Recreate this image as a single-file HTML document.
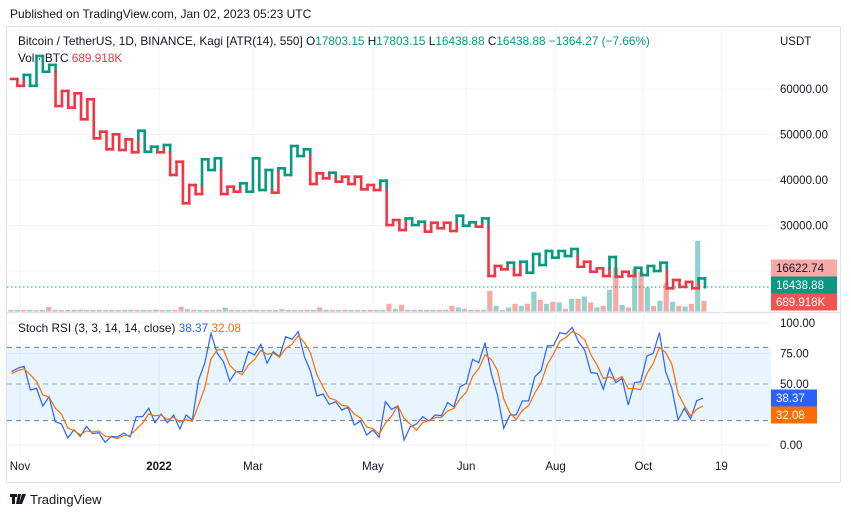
<!DOCTYPE html>
<html><head><meta charset="utf-8"><style>
html,body{margin:0;padding:0;background:#fff;}
body{width:851px;height:518px;overflow:hidden;position:relative;font-family:"Liberation Sans",sans-serif;}
.t{position:absolute;white-space:nowrap;}
</style></head><body>
<div class="t" style="left:10px;top:7px;font-size:12px;color:#131722;">Published on TradingView.com, Jan 02, 2023 05:23 UTC</div>
<svg id="c" width="851" height="518" style="position:absolute;left:0;top:0;font-family:'Liberation Sans',sans-serif;">
<rect x="6.5" y="26.5" width="834" height="456" fill="none" stroke="#e0e3eb"/>
<line x1="7" y1="312.5" x2="840" y2="312.5" stroke="#e0e3eb" stroke-width="1.5"/>
<g id="grid"></g>
<g id="vol"></g>
<g id="kagi"></g>
<line x1="7" y1="287" x2="771" y2="287" stroke="#089981" stroke-dasharray="1.5 2.5"/>
<g id="stoch"></g>
<g id="axes"></g>
<text x="18" y="45" font-size="11.8" fill="#131722">Bitcoin / TetherUS, 1D, BINANCE, Kagi [ATR(14), 550]  <tspan fill="#131722">O</tspan><tspan fill="#089981">17803.15</tspan>  H<tspan fill="#089981">17803.15</tspan>  L<tspan fill="#089981">16438.88</tspan>  C<tspan fill="#089981">16438.88</tspan>  <tspan fill="#089981">−1364.27 (−7.66%)</tspan></text>
<text x="18" y="62" font-size="11.8" fill="#131722">Vol · BTC  <tspan fill="#f23645">689.918K</tspan></text>
<text x="18" y="332" font-size="11.8" fill="#131722">Stoch RSI (3, 3, 14, 14, close)  <tspan fill="#2962ff">38.37</tspan>  <tspan fill="#ff6d00">32.08</tspan></text>
<text x="780" y="45" font-size="11.5" fill="#131722">USDT</text>
<g>
<path d="M10 494h7v3h-2v7h-3v-7h-2z M18 494h3l-2 10h-3z M22 494h4l-4 10h-3z" fill="#131722"/>
<text x="30" y="504" font-size="13" fill="#131722">TradingView</text>
</g>
</svg>
<script>
// ---- data ----
const kagiLevels=[62200,60700,63100,60700,67250,63800,65300,56260,59560,55900,59050,53340,57740,49160,50620,46750,50040,46600,48940,46090,50830,46220,47320,46090,47690,41100,44020,34880,38900,36920,44550,42200,44770,36920,38530,37430,39270,37430,44770,37800,42200,37210,42570,41100,47470,45270,46750,39120,41470,40370,41600,39630,40730,39120,40730,37950,38900,37800,39850,
30100,31200,29000,31560,30100,30830,28640,30610,29390,30610,28790,32150,29950,30700,29740,31560,18900,21100,20370,21830,19120,22040,19620,23730,21320,24390,22920,24390,23290,24830,20940,22040,19840,20590,18900,23070,18740,19840,18900,20700,19120,21100,20000,21830,16200,18020,16500,17600,16200,18370,16438];
const volumeK=[90,100,95,110,90,100,300,110,95,100,105,120,95,100,110,90,100,95,100,110,95,100,90,120,100,95,110,320,150,110,100,95,100,120,250,110,100,95,110,100,90,105,110,150,100,95,100,110,100,260,110,100,95,110,100,95,100,110,105,
110,500,175,435,110,110,110,110,110,110,110,370,260,175,110,110,110,1345,370,110,260,500,370,500,1280,760,500,630,585,175,825,825,975,585,260,370,1410,2860,435,260,2750,2600,1560,370,695,1840,630,370,325,500,4595,690];
const volumeUp=[0,1,0,1,0,1,0,1,0,1,0,1,0,1,0,1,0,1,0,1,0,1,0,1,0,1,0,0,1,0,1,0,1,0,1,0,1,0,1,0,1,0,1,0,1,0,1,0,1,0,1,0,1,0,1,0,1,0,1,
1,0,1,0,1,0,1,0,1,0,1,0,1,0,1,0,1,0,1,0,1,0,1,0,1,0,1,0,1,0,1,0,1,0,1,0,1,0,1,0,1,0,1,0,1,0,1,0,1,0,1,0];
const stochK=[60.1,63,64.5,45.1,46.4,31.9,39.6,19.1,17.2,5.7,12.5,7.1,15.3,9.3,10.1,2.2,7.1,6.6,9.8,6.6,23.2,23.2,30.1,18.3,25.4,18.3,24.6,13.1,24.6,20.5,53.3,67,91.5,75.1,68.3,52.5,60.1,60.1,76.5,73.8,82.5,67,76.5,72.4,88.8,86.6,92.9,72.4,60.1,40.2,41.8,33.3,35.5,28.7,30.9,16.4,19.7,8.2,12.3,6.3,35.5,29.2,32,4.1,15,17.2,23.2,19.6,24.6,24,34.8,31.2,47.8,50.5,70.2,67.5,83.9,58.8,41,13.7,24.6,24.6,36.1,36.1,56,60.9,81.4,81.4,92.1,91,96.4,84.7,77.9,59.3,58.8,45.7,62.8,51.1,54.6,32.8,51.1,51.9,73,75.1,92.1,60.1,46.4,20.5,30.1,21.4,36.4,38.37];
const stochD=[58.5,61,62.5,57.5,52,41.1,39.3,30.2,25.3,14,11.8,8.4,11.6,10.6,11.6,7.2,6.5,5.3,7.8,7.7,13.2,17.7,25.5,23.9,24.6,20.7,22.8,18.7,20.8,19.4,32.8,46.9,70.6,77.9,78.3,65.3,60.3,57.6,65.6,70.1,77.6,74.4,75.3,72,79.2,82.6,89.4,84,75.1,57.6,47.4,38.4,36.9,32.5,31.7,25.3,22.3,14.8,13.4,8.9,18,23.7,32.2,21.8,17,12.1,18.5,20,22.5,22.7,27.8,30,37.9,43.2,56.2,62.7,73.9,70.1,61.2,37.8,26.4,21,28.4,32.3,42.7,51,66.1,74.6,85,88.2,93.2,90.7,86.3,74,65.3,54.6,55.8,53.2,56.2,46.2,46.2,45.3,58.7,66.7,80.1,75.8,66.2,42.3,32.3,24,29.3,32.08];
const priceTicks=[60000,50000,40000,30000];
const stochTicks=[100,75,50,0];
const stochBands=[80,50,20];
const timeLabels=["Nov","2022","Mar","May","Jun","Aug","Oct","19"];
const timeFrac=[0.017,0.199,0.322,0.479,0.601,0.718,0.833,0.935];
// ---- scales ----
const NS="http://www.w3.org/2000/svg";
const PL=7,PR=771;
const yP=p=>89+(60000-p)*0.00455;
const yS=v=>445-v*1.22;
const yVol=v=>311.5-v/65;
const xK=i=>11+i*(705-11)/(kagiLevels.length-1);
const xV=i=>11+i*(704-11)/(volumeK.length-1);
const xS=i=>11.7+i*(703-11.7)/(stochK.length-1);
const xT=f=>PL+f*(PR-PL);
function mk(tag,attrs,parent){const e=document.createElementNS(NS,tag);for(const k in attrs)e.setAttribute(k,attrs[k]);parent.appendChild(e);return e;}
const G=id=>document.getElementById(id);
// grid
const grid=G('grid');
timeFrac.forEach(f=>{const l=mk('line',{x1:xT(f),x2:xT(f),y1:27,y2:455,stroke:'#f0f3fa'},grid);

});
priceTicks.concat([20000]).forEach(p=>{const l=mk('line',{x1:PL,x2:PR,y1:yP(p),y2:yP(p),stroke:'#f0f3fa'},grid);

});
[100,75,0].forEach(v=>{const l=mk('line',{x1:PL,x2:PR,y1:yS(v),y2:yS(v),stroke:'#f0f3fa'},grid);

});
// volume
const vg=G('vol');
volumeK.forEach((v,i)=>{const y=yVol(v);const r=mk('rect',{x:xV(i)-2.6,y:y,width:5.2,height:311.5-y,fill:volumeUp[i]?'#92d2cc':'#f7a9a7'},vg);

});
// kagi
const kg=G('kagi');
const GREEN='#089981',RED='#f23645';
function seg(x1,y1,x2,y2,c){const l=mk('line',{x1,y1,x2,y2,stroke:c,'stroke-width':2.6,'stroke-linecap':'square'},kg);

}
let color=RED,lastHigh=null,lastLow=null;
for(let i=1;i<kagiLevels.length;i++){
  const a=kagiLevels[i-1],b=kagiLevels[i],x0=xK(i-1),x=xK(i);
  seg(x0,yP(a),x,yP(a),color);
  if(b>a){
    if(lastHigh!==null&&color===RED&&b>lastHigh){seg(x,yP(a),x,yP(lastHigh),RED);color=GREEN;seg(x,yP(lastHigh),x,yP(b),GREEN);}
    else seg(x,yP(a),x,yP(b),color);
    lastLow=a;
  }else{
    if(lastLow!==null&&color===GREEN&&b<lastLow){seg(x,yP(a),x,yP(lastLow),GREEN);color=RED;seg(x,yP(lastLow),x,yP(b),RED);}
    else seg(x,yP(a),x,yP(b),color);
    lastHigh=a;
  }
}
// stoch
const sg=G('stoch');
const band=mk('rect',{x:PL,y:yS(80),width:PR-PL,height:yS(20)-yS(80),fill:'rgba(33,150,243,0.1)'},sg);


stochBands.forEach(v=>{const l=mk('line',{x1:PL,x2:PR,y1:yS(v),y2:yS(v),stroke:v===50?'#a3a6af':'#787b86','stroke-dasharray':'5 4'},sg);

});
const dK=mk('polyline',{points:stochK.map((v,i)=>xS(i)+','+yS(v)).join(' '),fill:'none',stroke:'#2962ff','stroke-width':1.2},sg);


const dD=mk('polyline',{points:stochD.map((v,i)=>xS(i)+','+yS(v)).join(' '),fill:'none',stroke:'#ff6d00','stroke-width':1.2},sg);


// axes
const ax=G('axes');
priceTicks.forEach(p=>{const t=mk('text',{x:780,y:yP(p)+4,'font-size':11.5,fill:'#131722'},ax);t.textContent=p.toFixed(2);

});
stochTicks.forEach(v=>{const t=mk('text',{x:780,y:yS(v)+4,'font-size':11.5,fill:'#131722'},ax);t.textContent=v.toFixed(2);

});
timeLabels.forEach((s,i)=>{const t=mk('text',{x:xT(timeFrac[i]),y:470,'font-size':11.5,fill:'#131722','text-anchor':'middle','font-weight':s==='2022'?'bold':'normal'},ax);t.textContent=s;

});
function tag(y,txt,bg,fg,w,name){const r=mk('rect',{x:771,y:y-8.5,width:w,height:17,fill:bg},ax);


const t=mk('text',{x:776,y:y+4,'font-size':11.5,fill:fg},ax);t.textContent=txt;

}
tag(268,'16622.74','#f7a9a7','#131722',66,'high-price-tag');
tag(285,'16438.88','#089981','#fff',66,'last-price-tag');
tag(302,'689.918K','#f05350','#fff',66,'volume-tag');
tag(398,stochK[stochK.length-1].toFixed(2),'#2962ff','#fff',46,'stoch-k-tag');
tag(415,stochD[stochD.length-1].toFixed(2),'#ff6d00','#fff',46,'stoch-d-tag');
</script>
</body></html>
